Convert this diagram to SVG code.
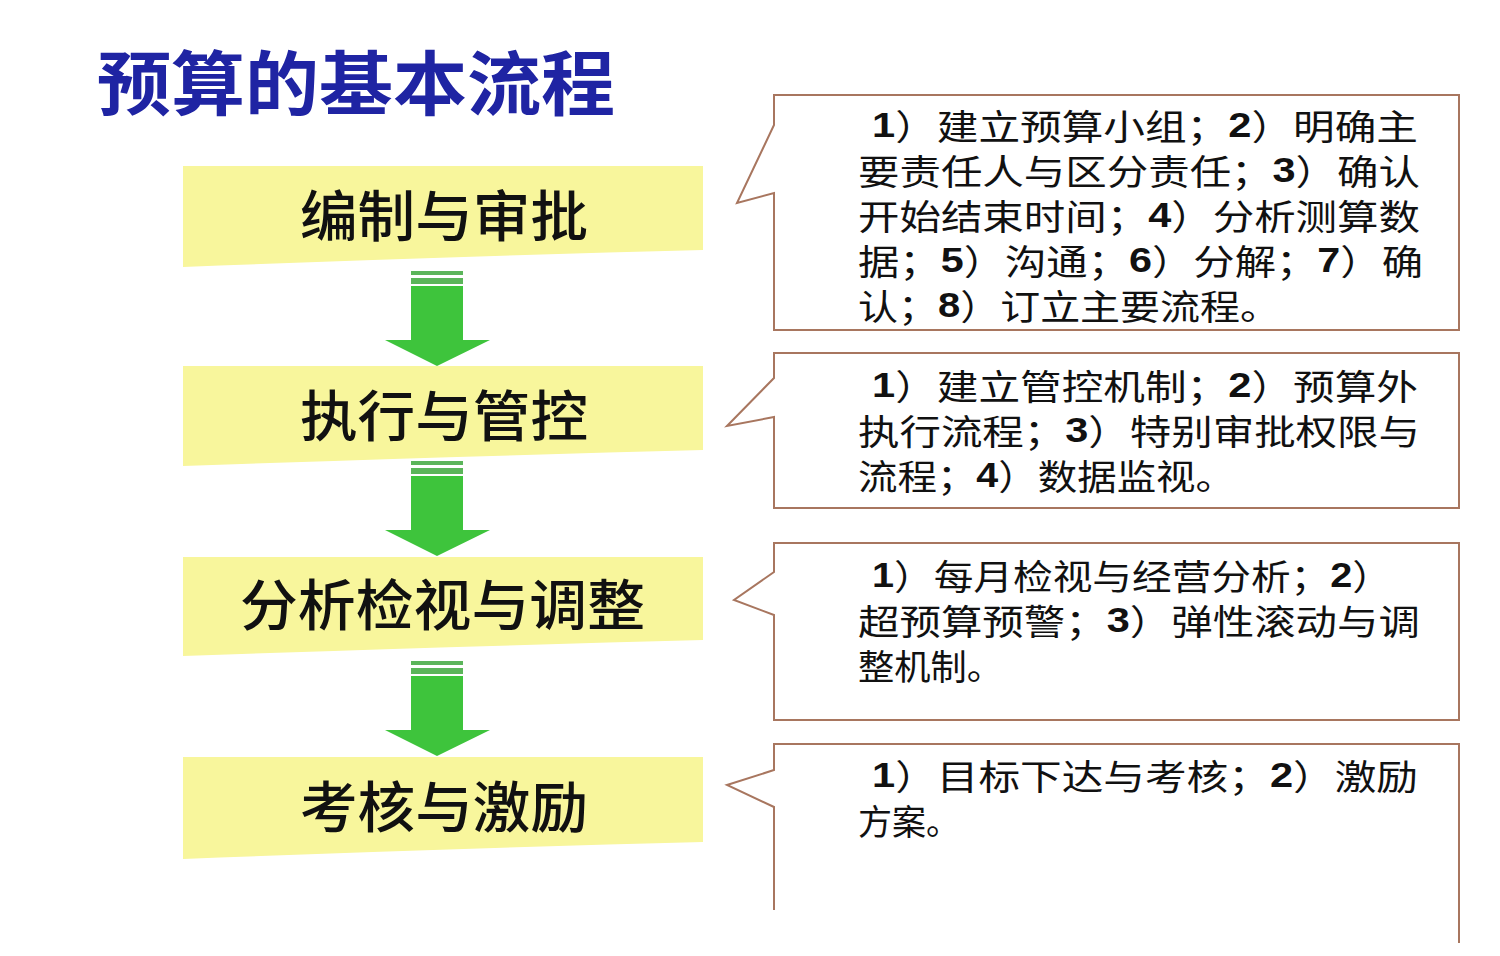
<svg xmlns="http://www.w3.org/2000/svg" width="1500" height="956" viewBox="0 0 1500 956">
<style>
.title{font-family:"Noto Sans CJK SC","Noto Sans",sans-serif;font-size:70px;font-weight:700;fill:#1f24a3}
.step{fill:#f8f69c}
.steptxt{font-family:"Noto Sans CJK SC","Noto Sans",sans-serif;font-size:55px;font-weight:500;fill:#111}
.callout{fill:#fff;stroke:#a8765f;stroke-width:2}
.ctxt{font-family:"Noto Sans CJK SC","Noto Sans",sans-serif;font-size:35px;fill:#111}
.n{font-family:"Liberation Sans",Arial,sans-serif;font-weight:700}
.shaft{fill:#3ec43c}
.stripe{fill:#5bb55a}
</style>
<defs>
<g id="arrow">
<rect class="stripe" x="411" y="0" width="52" height="4"/>
<rect class="stripe" x="411" y="7" width="52" height="6"/>
<path class="shaft" d="M411,15 H463 V69 H490 L437,95 L385,69 H411 Z"/>
</g>
</defs>
<text class="title" x="97" y="79" dominant-baseline="central" textLength="518" lengthAdjust="spacingAndGlyphs">预算的基本流程</text>

<g id="step1">
<path class="step" d="M183,166 H703 V250 Q470,256 183,267 Z"/>
<text class="steptxt" x="300" y="212" dominant-baseline="central" textLength="288" lengthAdjust="spacingAndGlyphs">编制与审批</text>
</g>
<g id="step2">
<path class="step" d="M183,366 H703 V450 Q470,456 183,466 Z"/>
<text class="steptxt" x="300" y="412" dominant-baseline="central" textLength="288" lengthAdjust="spacingAndGlyphs">执行与管控</text>
</g>
<g id="step3">
<path class="step" d="M183,557 H703 V640 Q470,646 183,656 Z"/>
<text class="steptxt" x="240" y="601" dominant-baseline="central" textLength="405" lengthAdjust="spacingAndGlyphs">分析检视与调整</text>
</g>
<g id="step4">
<path class="step" d="M183,757 H703 V842 Q470,848 183,859 Z"/>
<text class="steptxt" x="300" y="803" dominant-baseline="central" textLength="288" lengthAdjust="spacingAndGlyphs">考核与激励</text>
</g>

<g id="connectors">
<use href="#arrow" y="271"/>
<use href="#arrow" y="461"/>
<use href="#arrow" y="661"/>
</g>

<g id="note1">
<path class="callout" d="M774,95 H1459 V330 H774 V193 L737,203 L774,125 Z"/>
<text class="ctxt" x="872" y="124" dominant-baseline="central" textLength="546" lengthAdjust="spacingAndGlyphs"><tspan class="n">1</tspan>）建立预算小组；<tspan class="n">2</tspan>）明确主</text>
<text class="ctxt" x="858" y="169" dominant-baseline="central" textLength="562" lengthAdjust="spacingAndGlyphs">要责任人与区分责任；<tspan class="n">3</tspan>）确认</text>
<text class="ctxt" x="858" y="214" dominant-baseline="central" textLength="562" lengthAdjust="spacingAndGlyphs">开始结束时间；<tspan class="n">4</tspan>）分析测算数</text>
<text class="ctxt" x="858" y="259" dominant-baseline="central" textLength="565" lengthAdjust="spacingAndGlyphs">据；<tspan class="n">5</tspan>）沟通；<tspan class="n">6</tspan>）分解；<tspan class="n">7</tspan>）确</text>
<text class="ctxt" x="858" y="304" dominant-baseline="central" textLength="422" lengthAdjust="spacingAndGlyphs">认；<tspan class="n">8</tspan>）订立主要流程。</text>
</g>

<g id="note2">
<path class="callout" d="M774,353 H1459 V508 H774 V417 L727,426 L774,378 Z"/>
<text class="ctxt" x="872" y="384" dominant-baseline="central" textLength="546" lengthAdjust="spacingAndGlyphs"><tspan class="n">1</tspan>）建立管控机制；<tspan class="n">2</tspan>）预算外</text>
<text class="ctxt" x="858" y="429" dominant-baseline="central" textLength="562" lengthAdjust="spacingAndGlyphs">执行流程；<tspan class="n">3</tspan>）特别审批权限与</text>
<text class="ctxt" x="858" y="474" dominant-baseline="central" textLength="377" lengthAdjust="spacingAndGlyphs">流程；<tspan class="n">4</tspan>）数据监视。</text>
</g>

<g id="note3">
<path class="callout" d="M774,543 H1459 V720 H774 V615 L734,600 L774,572 Z"/>
<text class="ctxt" x="872" y="574" dominant-baseline="central" textLength="520" lengthAdjust="spacingAndGlyphs"><tspan class="n">1</tspan>）每月检视与经营分析；<tspan class="n">2</tspan>）</text>
<text class="ctxt" x="858" y="619" dominant-baseline="central" textLength="562" lengthAdjust="spacingAndGlyphs">超预算预警；<tspan class="n">3</tspan>）弹性滚动与调</text>
<text class="ctxt" x="858" y="664" dominant-baseline="central" textLength="145" lengthAdjust="spacingAndGlyphs">整机制。</text>
</g>

<g id="note4">
<path class="callout" d="M774,910 V807 L727,785 L774,770 V744 H1459 V943"/>
<text class="ctxt" x="872" y="774" dominant-baseline="central" textLength="546" lengthAdjust="spacingAndGlyphs"><tspan class="n">1</tspan>）目标下达与考核；<tspan class="n">2</tspan>）激励</text>
<text class="ctxt" x="858" y="819" dominant-baseline="central" textLength="102" lengthAdjust="spacingAndGlyphs">方案。</text>
</g>
</svg>
